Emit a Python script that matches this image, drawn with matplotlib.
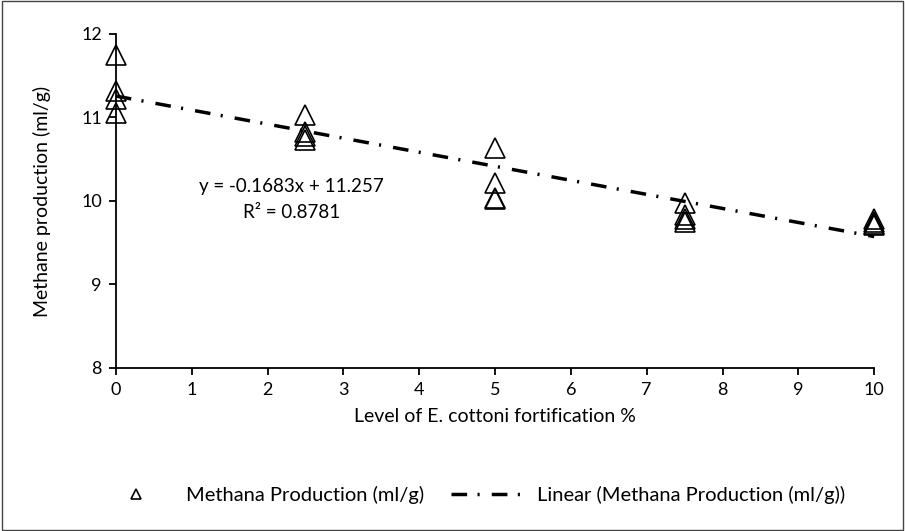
import matplotlib
matplotlib.use('Agg')
from matplotlib import pyplot as plt
from matplotlib.patches import Rectangle
from matplotlib.lines import Line2D
import numpy as np

plt.rcParams['font.family'] = ['Lato', 'DejaVu Sans']

# fortification level (%) and methane production (ml/g)
level = [0, 0, 0, 0,
         2.5, 2.5, 2.5, 2.5,
         5, 5, 5, 5,
         7.5, 7.5, 7.5, 7.5,
         10, 10, 10, 10]
methane = [11.75, 11.32, 11.22, 11.05,
           11.03, 10.83, 10.78, 10.73,
           10.63, 10.22, 10.03, 10.02,
           9.97, 9.83, 9.78, 9.75,
           9.78, 9.75, 9.73, 9.71]

slope = -0.1683
intercept = 11.257
r2 = 0.8781

x_ticks = list(range(0, 11))
y_ticks = [8, 9, 10, 11, 12]

dashdot = (0, (4.5, 3, 0.6, 3.5))

fig = plt.figure(figsize=(9.05, 5.31), dpi=100)
ax = fig.add_axes([0.128, 0.307, 0.838, 0.629])

trend_x = np.array([0, 10])
ax.plot(trend_x, slope * trend_x + intercept, color='black', lw=2.5,
        linestyle=dashdot, zorder=2)
ax.plot(level, methane, linestyle='none', marker='^', markersize=14,
        markerfacecolor='none', markeredgecolor='black', markeredgewidth=1.2,
        zorder=3)

ax.set_xlim(0, 10)
ax.set_ylim(8, 12)
ax.set_xticks(x_ticks)
ax.set_yticks(y_ticks)
ax.spines['top'].set_visible(False)
ax.spines['right'].set_visible(False)
ax.spines['left'].set_linewidth(1.3)
ax.spines['bottom'].set_linewidth(1.3)
ax.tick_params(direction='out', length=5, width=1.3, labelsize=13, pad=5)
for art in ax.lines:
    art.set_clip_on(False)

ax.set_xlabel('Level of E. cottoni fortification %', fontsize=14, labelpad=7)
ax.set_ylabel('Methane production (ml/g)', fontsize=14, labelpad=22)

ax.text(2.32, 10.17, 'y = -0.1683x + 11.257', ha='center', va='center', fontsize=13.5)
ax.text(2.32, 9.86, 'R² = %.4f' % r2, ha='center', va='center', fontsize=13.5)

handles = [
    Line2D([], [], linestyle='none', marker='^', markersize=7,
           markerfacecolor='none', markeredgecolor='black', markeredgewidth=1.2),
    Line2D([], [], color='black', lw=2.5, linestyle=dashdot),
]
fig.legend(handles, ['Methana Production (ml/g)', 'Linear (Methana Production (ml/g))'],
           loc='center', bbox_to_anchor=(0.522, 0.068), ncol=2, frameon=False,
           fontsize=14.5, handlelength=3.6, columnspacing=1.3, handletextpad=0.7)

fig.patches.append(Rectangle((0.002, 0.002), 0.996, 0.996, transform=fig.transFigure,
                             fill=False, edgecolor='#444444', lw=1))

fig.savefig('out.png', dpi=100)
